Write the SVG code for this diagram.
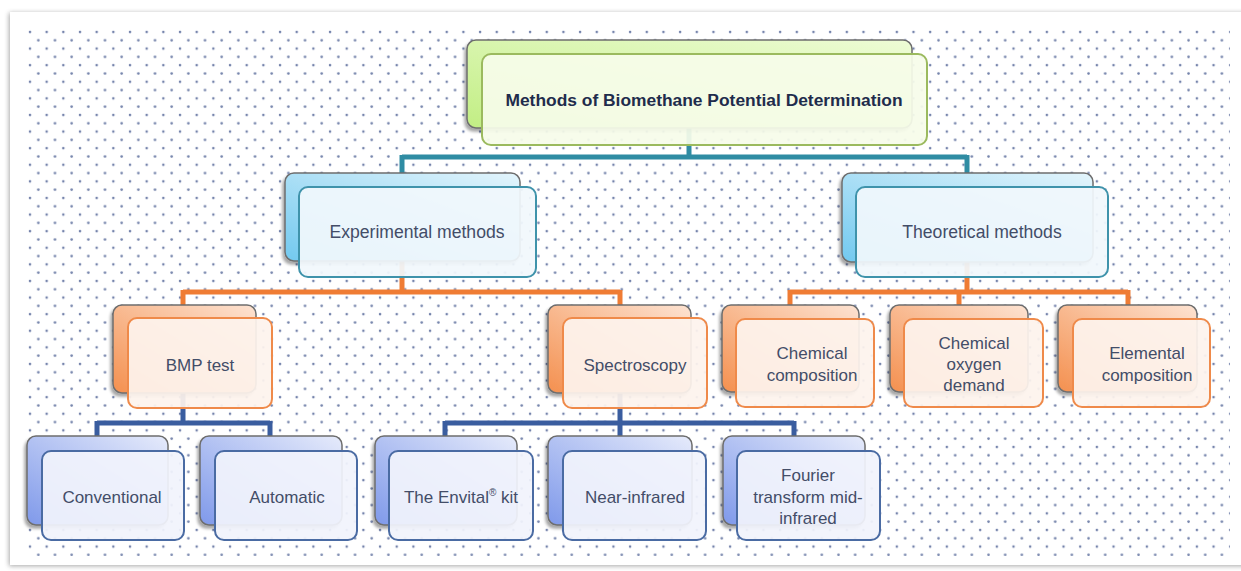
<svg xmlns="http://www.w3.org/2000/svg" width="1241" height="571" viewBox="0 0 1241 571">
  <defs>
    <pattern id="dots" patternUnits="userSpaceOnUse" x="26" y="28" width="16.67" height="16.6">
      <circle cx="4" cy="4" r="1.3" fill="#7483ab"/>
      <circle cx="12.33" cy="12.3" r="1.3" fill="#7483ab"/>
    </pattern>
    <filter id="cardShadow" x="-5%" y="-5%" width="110%" height="110%">
      <feGaussianBlur in="SourceAlpha" stdDeviation="2.5"/>
      <feOffset dx="-1" dy="1"/>
      <feComponentTransfer><feFuncA type="linear" slope="0.35"/></feComponentTransfer>
      <feMerge><feMergeNode/><feMergeNode in="SourceGraphic"/></feMerge>
    </filter>
    <filter id="boxShadow" x="-10%" y="-10%" width="120%" height="125%">
      <feGaussianBlur in="SourceAlpha" stdDeviation="1.8"/>
      <feOffset dx="-2" dy="3"/>
      <feComponentTransfer><feFuncA type="linear" slope="0.35"/></feComponentTransfer>
      <feMerge><feMergeNode/><feMergeNode in="SourceGraphic"/></feMerge>
    </filter>
    <linearGradient id="gGreen" x1="1" y1="0" x2="0" y2="1">
      <stop offset="0" stop-color="#eefcd6"/>
      <stop offset="1" stop-color="#c2ee84"/>
    </linearGradient>
    <linearGradient id="gCyan" x1="1" y1="0" x2="0" y2="1">
      <stop offset="0" stop-color="#e4f5fc"/>
      <stop offset="1" stop-color="#72c9ef"/>
    </linearGradient>
    <linearGradient id="gOrange" x1="1" y1="0" x2="0" y2="1">
      <stop offset="0" stop-color="#fde3d2"/>
      <stop offset="1" stop-color="#f4904f"/>
    </linearGradient>
    <linearGradient id="gBlue" x1="1" y1="0" x2="0" y2="1">
      <stop offset="0" stop-color="#e6ebfb"/>
      <stop offset="1" stop-color="#7f99ea"/>
    </linearGradient>
    <style>
      .back { stroke: #6e6e6e; stroke-width: 1.5; filter: url(#boxShadow); }
      .front { stroke-width: 2; }
      .green .back { fill: url(#gGreen); }
      .green .front { fill: #f6fcea; fill-opacity: 0.93; stroke: #9bba5e; }
      .cyan .back { fill: url(#gCyan); }
      .cyan .front { fill: #f1f8fc; fill-opacity: 0.93; stroke: #3f93ab; }
      .orange .back { fill: url(#gOrange); }
      .orange .front { fill: #fdf3ed; fill-opacity: 0.93; stroke: #ef8a4a; }
      .blue .back { fill: url(#gBlue); }
      .blue .front { fill: #f1f3fc; fill-opacity: 0.93; stroke: #4a6ba3; }
      text { font-family: "Liberation Sans", Arial, sans-serif; font-size: 17px; fill: #434d68; text-anchor: middle; }
      .title { font-weight: bold; font-size: 17.4px; fill: #1f2c4c; }
      .lg { font-size: 17.6px; }
      .link { fill: none; stroke-width: 5; stroke-linejoin: miter; }
      .teal { stroke: #2f8ca3; }
      .org { stroke: #ef7c34; }
      .navy { stroke: #3a5d9f; }
    </style>
  </defs>

  <!-- page card with dotted fill -->
  <rect x="0" y="0" width="1241" height="571" fill="#ffffff"/>
  <rect x="10" y="12" width="1240" height="553" fill="#ffffff" filter="url(#cardShadow)"/>
  <rect x="26" y="28" width="1204" height="528" fill="url(#dots)"/>

  <!-- connectors -->
  <g id="connectors">
    <path class="link teal" d="M689,128 V157 M402,157 H967 M402,155 V173 M967,155 V173"/>
    <path class="link org" d="M402,261 V292 M183,292 H620 M183,290 V305 M620,290 V305"/>
    <path class="link org" d="M967,262 V292 M790,292 H1128 M790,290 V305 M959,290 V305 M1128,290 V305"/>
    <path class="link navy" d="M183,393 V423 M97,423 H270 M97,421 V436 M270,421 V436"/>
    <path class="link navy" d="M620,393 V423 M445,423 H794 M445,421 V436 M620,421 V436 M794,421 V436"/>
  </g>

  <!-- level 1 -->
  <g id="node-root" class="green">
    <rect class="back" x="467" y="40" width="445" height="88" rx="9"/>
    <rect class="front" x="482" y="54" width="445" height="91" rx="9"/>
    <text class="title" x="704" y="106">Methods of Biomethane Potential Determination</text>
  </g>

  <!-- level 2 -->
  <g id="node-experimental" class="cyan">
    <rect class="back" x="285" y="173" width="235" height="88" rx="9"/>
    <rect class="front" x="299" y="187" width="237" height="90" rx="9"/>
    <text class="lg" x="417" y="238">Experimental methods</text>
  </g>
  <g id="node-theoretical" class="cyan">
    <rect class="back" x="842" y="173" width="251" height="89" rx="9"/>
    <rect class="front" x="856" y="187" width="252" height="90" rx="9"/>
    <text class="lg" x="982" y="238">Theoretical methods</text>
  </g>

  <!-- level 3 -->
  <g id="node-bmp" class="orange">
    <rect class="back" x="113" y="305" width="143" height="88" rx="9"/>
    <rect class="front" x="128" y="318" width="144" height="90" rx="9"/>
    <text x="200" y="371">BMP test</text>
  </g>
  <g id="node-spectroscopy" class="orange">
    <rect class="back" x="548" y="305" width="143" height="88" rx="9"/>
    <rect class="front" x="563" y="318" width="144" height="90" rx="9"/>
    <text x="635" y="371">Spectroscopy</text>
  </g>
  <g id="node-chemical-composition" class="orange">
    <rect class="back" x="722" y="305" width="137" height="87" rx="9"/>
    <rect class="front" x="736" y="319" width="138" height="88" rx="9"/>
    <text x="812" y="359">Chemical</text>
    <text x="812" y="381">composition</text>
  </g>
  <g id="node-cod" class="orange">
    <rect class="back" x="890" y="305" width="138" height="87" rx="9"/>
    <rect class="front" x="904" y="319" width="139" height="88" rx="9"/>
    <text x="974" y="349">Chemical</text>
    <text x="974" y="370">oxygen</text>
    <text x="974" y="391">demand</text>
  </g>
  <g id="node-elemental" class="orange">
    <rect class="back" x="1058" y="305" width="139" height="87" rx="9"/>
    <rect class="front" x="1073" y="319" width="137" height="88" rx="9"/>
    <text x="1147" y="359">Elemental</text>
    <text x="1147" y="381">composition</text>
  </g>

  <!-- level 4 -->
  <g id="node-conventional" class="blue">
    <rect class="back" x="27" y="436" width="141" height="89" rx="9"/>
    <rect class="front" x="42" y="451" width="142" height="89" rx="9"/>
    <text x="112" y="503">Conventional</text>
  </g>
  <g id="node-automatic" class="blue">
    <rect class="back" x="200" y="436" width="142" height="89" rx="9"/>
    <rect class="front" x="215" y="451" width="142" height="89" rx="9"/>
    <text x="287" y="503">Automatic</text>
  </g>
  <g id="node-envital" class="blue">
    <rect class="back" x="375" y="436" width="142" height="89" rx="9"/>
    <rect class="front" x="389" y="451" width="144" height="89" rx="9"/>
    <text x="461" y="503">The Envital<tspan font-size="10" dy="-7">®</tspan><tspan dy="7"> kit</tspan></text>
  </g>
  <g id="node-nir" class="blue">
    <rect class="back" x="548" y="436" width="144" height="89" rx="9"/>
    <rect class="front" x="563" y="451" width="143" height="89" rx="9"/>
    <text x="635" y="503">Near-infrared</text>
  </g>
  <g id="node-ftmir" class="blue">
    <rect class="back" x="723" y="436" width="142" height="89" rx="9"/>
    <rect class="front" x="737" y="451" width="143" height="89" rx="9"/>
    <text x="808" y="481">Fourier</text>
    <text x="808" y="503">transform mid-</text>
    <text x="808" y="524">infrared</text>
  </g>
</svg>
